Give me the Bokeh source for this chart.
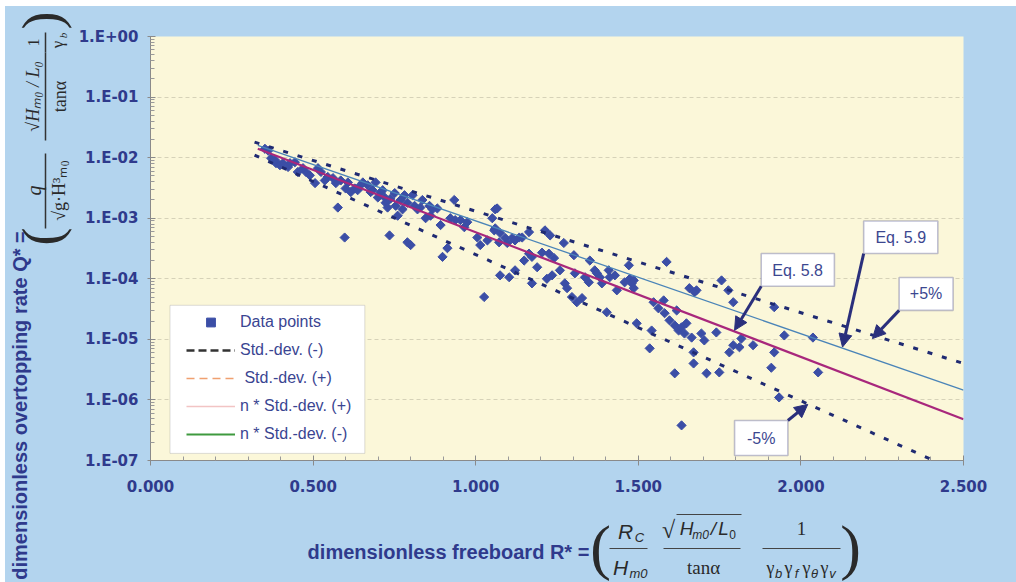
import math
from bokeh.plotting import figure
from bokeh.layouts import row, column
from bokeh.models import (Range1d, FixedTicker, CustomJSTickFormatter, Legend, LegendItem,
                          BoxAnnotation, Label, Arrow, NormalHead)
from bokeh.embed import file_html
from bokeh.resources import INLINE

# ---------------- data ----------------
x_ticks = [0.0, 0.5, 1.0, 1.5, 2.0, 2.5]
x_tick_labels = ["0.000", "0.500", "1.000", "1.500", "2.000", "2.500"]
y_ticks = [1e-7, 1e-6, 1e-5, 1e-4, 1e-3, 1e-2, 1e-1, 1.0]
y_tick_labels = ["1.E-07", "1.E-06", "1.E-05", "1.E-04", "1.E-03", "1.E-02", "1.E-01", "1.E+00"]

pts_x = [
    0.352, 0.362, 0.386, 0.383, 0.398, 0.423, 0.429, 0.444, 0.453, 0.478, 0.490, 0.506, 0.515, 0.536,
    0.545, 0.570, 0.576, 0.597, 0.600, 0.616, 0.628, 0.637, 0.646, 0.668, 0.677, 0.692, 0.699, 0.708,
    0.720, 0.723, 0.729, 0.738, 0.751, 0.735, 0.754, 0.781, 0.790, 0.790, 0.800, 0.812, 0.821, 0.830,
    0.846, 0.858, 0.867, 0.882, 0.892, 0.898, 0.913, 0.922, 0.934, 0.937, 0.953, 0.965, 0.974, 1.005,
    1.014, 1.026, 1.036, 1.057, 1.060,
    0.769, 0.775, 0.806, 0.836, 0.760, 0.861, 0.714, 0.683, 0.653, 0.607, 0.585, 0.524, 0.469, 0.407,
    0.371, 0.561,
    1.066, 1.051, 1.060, 1.075, 1.072, 1.091, 1.097, 1.112, 1.121, 1.134, 1.143, 1.164, 1.075, 1.103,
    1.121, 1.149, 1.164, 1.173, 1.173, 1.189, 1.204, 1.213, 1.225, 1.229, 1.219, 1.235, 1.241, 1.259,
    1.271, 1.274, 1.281, 1.296, 1.302, 1.305, 1.327, 1.336, 1.348, 1.351, 1.366, 1.373, 1.382, 1.388,
    1.403, 1.409, 1.412, 1.428, 1.434, 1.458, 1.471, 1.474, 1.486, 1.495, 1.541, 1.547, 1.535, 1.562,
    1.578, 1.587, 1.581, 1.596, 1.612, 1.624, 1.633, 1.642, 1.648, 1.657, 1.664, 1.670, 1.679, 1.694,
    1.703, 1.740, 1.756, 1.777, 1.780,
    1.480, 1.486, 1.612, 1.633, 1.670, 1.710, 1.749, 1.792, 1.673, 1.792, 1.811, 1.817, 1.853, 1.909,
    1.918, 1.918, 1.933, 1.949, 2.037, 2.053, 1.311, 1.618,
]
pts_q = [
    1.4e-2, 1.3e-2, 8.1e-3, 9.1e-3, 7.5e-3, 7.0e-3, 8.1e-3, 8.4e-3, 5.8e-3, 5.8e-3, 5.1e-3, 3.8e-3, 6.7e-3, 4.2e-3,
    4.8e-3, 3.8e-3, 1.5e-3, 4.8e-4, 3.1e-3, 2.7e-3, 3.1e-3, 2.9e-3, 3.5e-3, 3.5e-3, 2.7e-3, 3.9e-3, 2.2e-3, 2.7e-3,
    2.2e-3, 1.8e-3, 1.5e-3, 2.1e-3, 2.6e-3, 5.2e-4, 1.6e-3, 2.4e-3, 1.8e-3, 4.0e-4, 3.6e-4, 1.6e-3, 1.4e-3, 1.5e-3,
    1.0e-3, 1.6e-3, 1.4e-3, 1.45e-3, 7.7e-4, 2.3e-4, 3.2e-4, 1.0e-3, 2.0e-3, 9.3e-4, 9.3e-4, 7.1e-4, 8.6e-4, 4.8e-4,
    3.6e-4, 5.0e-5, 4.3e-4, 6.3e-4, 1.4e-3,
    2.0e-3, 1.4e-3, 2.4e-3, 2.0e-3, 1.1e-3, 1.1e-3, 2.9e-3, 2.9e-3, 3.9e-3, 3.9e-3, 4.2e-3, 5.8e-3, 6.7e-3, 8.1e-3,
    9.8e-3, 4.6e-3,
    1.45e-3, 1.0e-3, 6.8e-4, 5.7e-4, 4.0e-4, 4.7e-4, 3.9e-4, 4.7e-4, 4.3e-4, 4.8e-4, 4.8e-4, 5.9e-4, 1.14e-4, 1.06e-4,
    1.38e-4, 2.0e-4, 2.6e-4, 2.3e-4, 8.4e-5, 1.55e-4, 2.7e-4, 6.3e-4, 2.6e-4, 5.2e-4, 1.0e-4, 1.14e-4, 2.2e-4, 1.38e-4,
    3.9e-4, 8.4e-5, 7.0e-5, 5.0e-5, 2.45e-4, 1.23e-4, 4.8e-5, 1.06e-4, 8.75e-5, 2.0e-4, 1.38e-4, 1.23e-4, 1.06e-4, 8.4e-5,
    2.8e-5, 1.38e-4, 1.06e-4, 1.14e-4, 6.45e-5, 8.75e-5, 1.67e-4, 1.0e-4, 9.4e-5, 1.84e-5, 1.4e-5, 4.1e-5, 7.1e-6, 3.25e-5,
    4.4e-5, 1.9e-4, 2.7e-5, 2.06e-5, 1.7e-5, 1.4e-5, 1.58e-5, 1.25e-5, 1.84e-5, 7.0e-5, 1.07e-5, 6.1e-6, 6.45e-5, 1.25e-5,
    9.6e-6, 1.3e-5, 9.4e-5, 6.45e-5, 6.1e-6,
    8.4e-5, 7.0e-5, 2.75e-6, 3.8e-7, 4.0e-6, 2.75e-6, 2.85e-6, 4.1e-5, 6.0e-5, 8.0e-6, 7.4e-6, 1.03e-5, 8.0e-6, 3.4e-6,
    6.1e-6, 3.4e-5, 1.1e-6, 1.16e-5, 1.07e-5, 2.85e-6, 4.1e-5, 3.0e-5,
]

# line end points
eq58_x = [0.33, 2.5]
eq58_q = [1.4e-2, 4.8e-7]
eq59_x = [0.33, 2.5]
eq59_q = [1.6e-2, 1.45e-6]
up5_x = [0.32, 2.5]
up5_q = [1.8e-2, 4.0e-6]
lo5_x = [0.32, 2.5]
lo5_q = [1.1e-2, 6.0e-8]

legend_labels = ["Data points", "Std.-dev. (-)", " Std.-dev. (+)", "n * Std.-dev. (+)", "n * Std.-dev. (-)"]

# ---------------- styles ----------------
BLUE_BG = "#b3d4ee"
YELLOW = "#fbf7d9"
NAVY_TXT = "#2f3a8c"
PT_COL = "#3b4ea6"
ARROW_COL = "#2a2f7c"
DOT_COL = "#1f2a72"
FORM_COL = "#2a2a2a"
NAN = float("nan")

p = figure(width=941, height=494, x_range=Range1d(0, 2.5), y_range=Range1d(1e-7, 1.0),
           y_axis_type="log", output_backend="svg", toolbar_location=None,
           min_border_left=72, min_border_right=53, min_border_top=30, min_border_bottom=40,
           background_fill_color=YELLOW, border_fill_color=BLUE_BG)
p.outline_line_color = None
p.frame_align = False

x_minor = [round(i * 0.1, 1) for i in range(26) if i % 5]
y_minor = [m * 10.0 ** e for e in range(-7, 0) for m in range(2, 10)]

p.xaxis.ticker = FixedTicker(ticks=x_ticks, minor_ticks=x_minor)
p.xaxis.formatter = CustomJSTickFormatter(args=dict(tv=x_ticks, labs=x_tick_labels), code="""
let best = 0, bd = Infinity;
for (let i = 0; i < tv.length; i++) { const d = Math.abs(tv[i] - tick); if (d < bd) { bd = d; best = i; } }
return labs[best];
""")
p.yaxis.ticker = FixedTicker(ticks=y_ticks, minor_ticks=y_minor)
p.yaxis.formatter = CustomJSTickFormatter(args=dict(tv=y_ticks, labs=y_tick_labels), code="""
let best = 0, bd = Infinity;
for (let i = 0; i < tv.length; i++) { const d = Math.abs(Math.log10(tv[i]) - Math.log10(tick)); if (d < bd) { bd = d; best = i; } }
return labs[best];
""")

for ax in (p.xaxis, p.yaxis):
    ax.major_label_text_font = "DejaVu Sans"
    ax.major_label_text_font_style = "bold"
    ax.major_label_text_font_size = "15px"
    ax.major_label_text_color = NAVY_TXT
    ax.axis_line_color = "#8a8a8a"
    ax.major_tick_line_color = "#8a8a8a"
    ax.minor_tick_line_color = "#9a9a9a"
    ax.minor_tick_in = 4
    ax.minor_tick_out = 0
p.xaxis.major_tick_in = 5
p.xaxis.major_tick_out = 5
p.xaxis.major_label_standoff = 14
p.yaxis.major_tick_in = 5
p.yaxis.major_tick_out = 3
p.yaxis.major_label_standoff = 9

p.xgrid.grid_line_color = None
p.ygrid.ticker = FixedTicker(ticks=y_ticks)
p.ygrid.grid_line_color = "#d6d2b8"
p.ygrid.grid_line_dash = "4 3"

# legend-only series (no visible data in the chart)
r_sdm = p.line([NAN, NAN], [NAN, NAN], line_color="#333333", line_width=2.5, line_dash="8 4")
r_sdp = p.line([NAN, NAN], [NAN, NAN], line_color="#f0a070", line_width=1.5, line_dash="8 5")
r_nsp = p.line([NAN, NAN], [NAN, NAN], line_color="#f2c4c4", line_width=1.5)
r_nsm = p.line([NAN, NAN], [NAN, NAN], line_color="#3f9a3f", line_width=2)

r_pts = p.scatter(pts_x, pts_q, marker="square", size=6.5, angle=math.pi / 4,
                  fill_color=PT_COL, line_color=PT_COL)

p.line(eq59_x, eq59_q, line_color="#4a84b8", line_width=1.3)
p.line(eq58_x, eq58_q, line_color="#a8277c", line_width=2.2)
p.line(up5_x, up5_q, line_color=DOT_COL, line_width=3, line_dash="5 10")
p.line(lo5_x, lo5_q, line_color=DOT_COL, line_width=3, line_dash="5 10")

# legend frame + legend
p.add_layout(BoxAnnotation(left=0.060, right=0.659, top=3.65e-5, bottom=1.31e-7,
                           fill_color="white", fill_alpha=1.0, line_color="#8d8d8d", line_width=1))
legend = Legend(items=[
    LegendItem(label=legend_labels[0], renderers=[r_pts]),
    LegendItem(label=legend_labels[1], renderers=[r_sdm]),
    LegendItem(label=legend_labels[2], renderers=[r_sdp]),
    LegendItem(label=legend_labels[3], renderers=[r_nsp]),
    LegendItem(label=legend_labels[4], renderers=[r_nsm]),
], location=(36, 15), padding=0, margin=0, border_line_color=None, background_fill_alpha=0,
    label_text_font="Liberation Sans", label_text_font_size="16px", label_text_color="#3a4592",
    glyph_width=49, glyph_height=22, label_height=22, spacing=6, label_standoff=5)
p.add_layout(legend)

# annotation boxes
boxes = [
    (2.193, 2.421, 9.02e-4, 2.61e-4, 2.307, 4.85e-4, "Eq. 5.9"),
    (1.878, 2.103, 2.61e-4, 7.52e-5, 1.990, 1.38e-4, "Eq. 5.8"),
    (2.302, 2.468, 1.05e-4, 3.01e-5, 2.385, 5.61e-5, "+5%"),
    (1.796, 1.960, 4.58e-7, 1.21e-7, 1.878, 2.35e-7, "-5%"),
]
for l, r, t, b, tx, ty, txt in boxes:
    p.add_layout(BoxAnnotation(left=l, right=r, top=t, bottom=b, fill_color="white", fill_alpha=1.0,
                               line_color=ARROW_COL, line_width=1.6))
    p.add_layout(Label(x=tx, y=ty, text=txt, text_align="center", text_baseline="middle",
                       text_font="Liberation Sans", text_font_size="16px", text_color="#3c4790"))

arrows = [
    (2.193, 2.61e-4, 2.128, 7.46e-6),
    (1.878, 7.52e-5, 1.796, 1.41e-5),
    (2.302, 3.01e-5, 2.220, 1.03e-5),
    (1.960, 4.58e-7, 2.021, 8.43e-7),
]
for xs, ys, xe, ye in arrows:
    p.add_layout(Arrow(end=NormalHead(size=13, fill_color=ARROW_COL, line_color=ARROW_COL),
                       x_start=xs, y_start=ys, x_end=xe, y_end=ye,
                       line_color=ARROW_COL, line_width=3))


# ---------------- helper panels for the axis titles (pixel coordinates, y downward) ----------------
def panel(w, h):
    f = figure(width=w, height=h, x_range=Range1d(0, w), y_range=Range1d(h, 0),
               output_backend="svg", toolbar_location=None, min_border=0,
               x_axis_location=None, y_axis_location=None,
               background_fill_color=BLUE_BG, border_fill_color=BLUE_BG)
    f.outline_line_color = None
    f.grid.visible = False
    f.frame_align = False
    return f


def lab(f, x, y, text, size, font="Liberation Serif", style="normal", color=FORM_COL, angle=0.0):
    f.add_layout(Label(x=x, y=y, text=text, angle=angle, text_align="center", text_baseline="middle",
                       text_font=font, text_font_size=size, text_font_style=style, text_color=color))


# bottom panel: x-axis title and formula
pb = panel(941, 82)
lab(pb, 373, 51, "dimensionless freeboard R* =", "20px", font="Liberation Sans", style="bold", color=NAVY_TXT)
lab(pb, 525, 46, "(", "62px")
lab(pb, 775, 46, ")", "62px")
lab(pb, 550, 31, "R", "21px", font="Liberation Sans", style="italic")
lab(pb, 564, 37, "C", "13px", font="Liberation Sans", style="italic")
lab(pb, 545, 67, "H", "21px", font="Liberation Sans", style="italic")
lab(pb, 563, 73, "m0", "13px", font="Liberation Sans", style="italic")
lab(pb, 593, 29, "\u221a", "24px")
lab(pb, 611, 28, "H", "19px", font="Liberation Sans", style="italic")
lab(pb, 625, 34, "m0", "12px", font="Liberation Sans", style="italic")
lab(pb, 638, 28, "/", "19px", font="Liberation Sans", style="italic")
lab(pb, 648, 28, "L", "19px", font="Liberation Sans", style="italic")
lab(pb, 657, 34, "0", "12px", font="Liberation Sans")
lab(pb, 628, 67, "tan\u03b1", "19px")
lab(pb, 726, 28, "1", "19px")
for gx, sub in zip([695, 713, 731, 749], ["b", "f", "\u03b8", "v"]):
    lab(pb, gx, 67, "\u03b3", "18px")
    lab(pb, gx + 8, 73, sub, "13px", font="Liberation Sans", style="italic")
pb.segment(x0=[534, 588, 687, 601], y0=[48, 48, 48, 14], x1=[572, 665, 765, 666], y1=[48, 48, 48, 14],
           line_color="#444444", line_width=1)

# left panel: y-axis title and formula (rotated)
A = math.pi / 2
pl = panel(70, 576)
lab(pl, 14, 399, "dimensionless overtopping rate Q* =", "20px", font="Liberation Sans", style="bold",
    color=NAVY_TXT, angle=A)
lab(pl, 36, 230, "(", "54px", angle=A)
lab(pl, 36, 14, ")", "54px", angle=A)
lab(pl, 28, 184, "q", "20px", style="italic", angle=A)
lab(pl, 53, 184, "\u221ag\u00b7H\u00b3\u2098\u2080", "18px", angle=A)
lab(pl, 27, 90, "\u221aH\u2098\u2080 / L\u2080", "18px", style="italic", angle=A)
lab(pl, 54, 90, "tan\u03b1", "18px", angle=A)
lab(pl, 28, 36, "1", "16px", angle=A)
lab(pl, 52, 38, "\u03b3", "17px", angle=A)
lab(pl, 57, 29, "b", "11px", style="italic", angle=A)
pl.segment(x0=[40, 40, 40], y0=[147, 46, 26], x1=[40, 40, 40], y1=[222, 134, 46],
           line_color="#333333", line_width=1.5)

bg = {"background-color": BLUE_BG}
layout = row(pl, column(p, pb, spacing=0, styles=bg), spacing=0, margin=(6, 0, 0, 5), styles=bg)
open("out.html", "w").write(file_html(layout, INLINE))
